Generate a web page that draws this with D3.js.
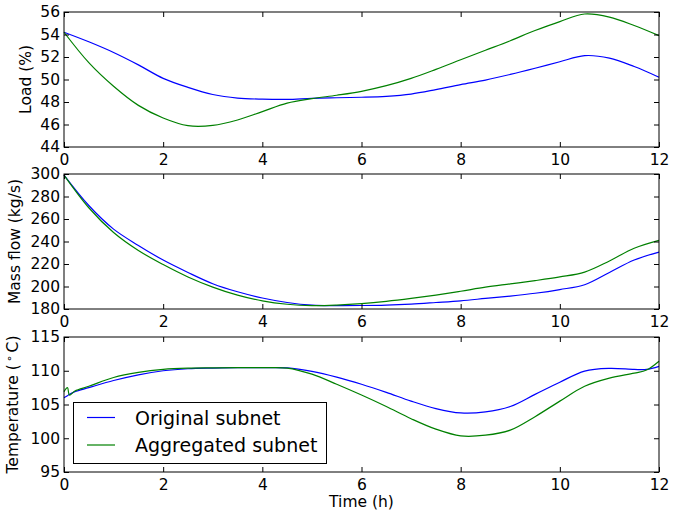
<!DOCTYPE html>
<html>
<head>
<meta charset="utf-8">
<script src="https://cdn.jsdelivr.net/npm/d3@7"></script>
<style>
    body { margin: 0; background: #fff; }
    svg { display: block; font-family: "DejaVu Sans", sans-serif; }
</style>
</head>
<body>
<div id="chart"></div>
<script>
/*jslint browser: true*/
/*globals d3*/

// half-hour samples
var hours = [0, 0.5, 1, 1.5, 2, 2.5, 3, 3.5, 4, 4.5, 5, 5.5, 6, 6.5, 7, 7.5, 8, 8.5, 9, 9.5, 10, 10.5, 11, 11.5, 12];

var loadOriginal = [54.2, 53.35, 52.4, 51.3, 50.1, 49.3, 48.67, 48.35, 48.25, 48.23, 48.33, 48.38, 48.42, 48.5, 48.7, 49.1, 49.55, 49.95, 50.45, 51.0, 51.58, 52.12, 51.9, 51.15, 50.2];
var loadAggregated = [54.2, 51.5, 49.4, 47.7, 46.58, 45.9, 45.92, 46.4, 47.15, 47.9, 48.3, 48.6, 48.95, 49.45, 50.1, 50.9, 51.75, 52.6, 53.45, 54.35, 55.15, 55.82, 55.55, 54.8, 53.9];

var flowOriginal = [299, 272, 251, 236.5, 223.5, 212.5, 202.5, 195.3, 189.8, 185.8, 183.4, 183, 183.1, 183.5, 184.4, 185.8, 187.3, 189.4, 191.5, 194, 197.3, 201.6, 212.5, 223.5, 230.6];
var flowAggregated = [299, 270, 248, 232, 219.5, 208.5, 199.5, 192.3, 187.2, 184.2, 183, 183.5, 184.8, 186.8, 189.4, 192.4, 195.8, 199.4, 202.3, 205.2, 208.5, 212.8, 222.7, 234, 241];

// temperature needs a few extra samples near t=0 (startup kink)
var tempHours = [0, 0.07, 0.11, 0.22, 0.5, 1, 1.5, 2, 2.5, 3, 3.5, 4, 4.5, 5, 5.5, 6, 6.5, 7, 7.5, 8, 8.5, 9, 9.5, 10, 10.5, 11, 11.5, 11.75, 12];
var tempOriginal = [106.0, 106.3, 106.5, 106.9, 107.5, 108.55, 109.4, 110.0, 110.3, 110.4, 110.45, 110.45, 110.42, 109.9, 109.05, 108.0, 106.8, 105.5, 104.4, 103.75, 103.9, 104.7, 106.5, 108.3, 109.95, 110.35, 110.2, 110.2, 110.65];
var tempAggregated = [106.9, 107.5, 106.4, 107.0, 107.7, 109.0, 109.75, 110.2, 110.38, 110.42, 110.45, 110.45, 110.4, 109.5, 108.0, 106.4, 104.7, 102.9, 101.35, 100.35, 100.45, 101.2, 103.2, 105.5, 107.7, 108.9, 109.65, 110.1, 111.4];

var timeTicks = [0, 2, 4, 6, 8, 10, 12];
var loadTicks = [44, 46, 48, 50, 52, 54, 56];
var flowTicks = [180, 200, 220, 240, 260, 280, 300];
var tempTicks = [95, 100, 105, 110, 115];

var seriesNames = ["Original subnet", "Aggregated subnet"];
var seriesColors = ["#0000ff", "#008000"];

(function () {
    "use strict";
    var WIDTH = 673,
        HEIGHT = 518,
        LEFT = 64,
        RIGHT = 659,
        PANEL_H = 135,
        TICK = 5,
        svg = d3.select("#chart").append("svg")
            .attr("width", WIDTH)
            .attr("height", HEIGHT),
        x = d3.scaleLinear().domain([0, 12]).range([LEFT, RIGHT]),

        /**
         * One stacked panel: frame, ticks on all four sides, two lines.
         */
        panel = function (top, yTicks, xs, series, label, labelX) {
            var y = d3.scaleLinear()
                    .domain([yTicks[0], yTicks[yTicks.length - 1]])
                    .range([top + PANEL_H, top]),
                g = svg.append("g"),
                line,
                lbl;

            // lines first so the frame sits on top
            series.forEach(function (vals, i) {
                line = d3.line()
                    .x(function (d, j) { return x(xs[j]); })
                    .y(function (d) { return y(d); })
                    .curve(d3.curveCatmullRom.alpha(0.5));
                g.append("path")
                    .datum(vals)
                    .attr("fill", "none")
                    .attr("stroke", seriesColors[i])
                    .attr("stroke-width", 1.2)
                    .attr("d", line);
            });

            g.append("g")
                .attr("transform", "translate(0," + (top + PANEL_H) + ")")
                .call(d3.axisBottom(x).tickValues(timeTicks).tickSize(-TICK).tickPadding(7));
            g.append("g")
                .attr("transform", "translate(0," + top + ")")
                .call(d3.axisTop(x).tickValues(timeTicks).tickSize(-TICK).tickFormat(""));
            g.append("g")
                .attr("transform", "translate(" + LEFT + ",0)")
                .call(d3.axisLeft(y).tickValues(yTicks).tickSize(-TICK).tickPadding(4));
            g.append("g")
                .attr("transform", "translate(" + RIGHT + ",0)")
                .call(d3.axisRight(y).tickValues(yTicks).tickSize(-TICK).tickFormat(""));

            g.selectAll(".domain").remove();
            g.selectAll(".tick line").attr("stroke", "#000");
            g.selectAll(".tick text")
                .attr("fill", "#000")
                .style("font-size", "15.5px")
                .style("font-family", "DejaVu Sans");

            g.append("rect")
                .attr("x", LEFT)
                .attr("y", top)
                .attr("width", RIGHT - LEFT)
                .attr("height", PANEL_H)
                .attr("fill", "none")
                .attr("stroke", "#000")
                .attr("stroke-width", 1);

            lbl = g.append("text")
                .attr("transform", "translate(" + labelX + "," + (top + PANEL_H / 2) + ") rotate(-90)")
                .attr("text-anchor", "middle")
                .style("font-size", "15.5px");
            if (typeof label === "string") {
                lbl.text(label);
            } else {
                label(lbl);
            }
            return y;
        },

        legend = function () {
            var g = svg.append("g");
            g.append("rect")
                .attr("x", 73.5)
                .attr("y", 402.5)
                .attr("width", 253)
                .attr("height", 61)
                .attr("fill", "#fff")
                .attr("stroke", "#000");
            seriesNames.forEach(function (name, i) {
                var cy = 417.5 + i * 27.5;
                g.append("line")
                    .attr("x1", 87)
                    .attr("x2", 115)
                    .attr("y1", cy)
                    .attr("y2", cy)
                    .attr("stroke", seriesColors[i])
                    .attr("stroke-width", 1.2);
                g.append("text")
                    .attr("x", 135)
                    .attr("y", cy + 7)
                    .style("font-size", "19px")
                    .text(name);
            });
        };

    panel(12, loadTicks, hours, [loadOriginal, loadAggregated], "Load (%)", 31);
    panel(174, flowTicks, hours, [flowOriginal, flowAggregated], "Mass flow (kg/s)", 20);
    panel(337, tempTicks, tempHours, [tempOriginal, tempAggregated], function (t) {
        t.append("tspan").text("Temperature (");
        t.append("tspan").attr("dx", 2).attr("dy", -5).style("font-size", "11px").text("\u2218");
        t.append("tspan").attr("dx", 3).attr("dy", 5).text("C)");
    }, 18);

    legend();

    svg.append("text")
        .attr("x", (LEFT + RIGHT) / 2)
        .attr("y", 507)
        .attr("text-anchor", "middle")
        .style("font-size", "15.5px")
        .text("Time (h)");
}());
</script>
</body>
</html>
